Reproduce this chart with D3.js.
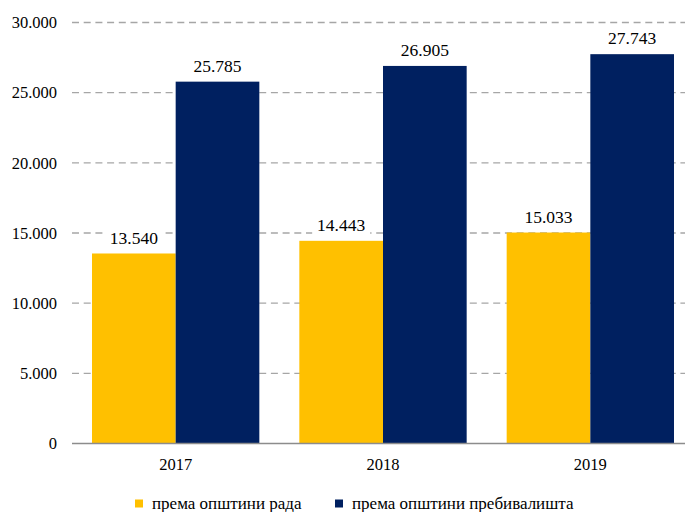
<!DOCTYPE html>
<html>
<head>
<meta charset="utf-8">
<style>
  body { margin: 0; background: #ffffff; }
</style>
</head>
<body>
<script src="https://cdn.jsdelivr.net/npm/d3@7"></script>
<script>
// data
var years = ['2017', '2018', '2019'];
var seriesNames = ['према општини рада', 'према општини пребивалишта'];
var workValues = [13540, 14443, 15033];
var residenceValues = [25785, 26905, 27743];
var yTicks = [0, 5000, 10000, 15000, 20000, 25000, 30000];
var colors = ['#FFC000', '#002060'];

var FONT = 'Liberation Serif';
var svgWidth = 685, svgHeight = 512;
var svg = d3.select('body').append('svg')
    .attr('width', svgWidth)
    .attr('height', svgHeight)
    .style('display', 'block')
    .style('font-family', FONT);

var plot = { left: 72, right: 694, top: 22.5, bottom: 443.5 };

var x0 = d3.scaleBand().domain(years).range([plot.left, plot.right]);
var x1 = d3.scaleBand().domain([0, 1]).range([20, x0.bandwidth() - 20]);
var y = d3.scaleLinear().domain([0, 30000]).range([plot.bottom, plot.top]);

var fmt = function (v) {
    return d3.format(',')(v).replace(/,/g, '.');
};

// gridlines
svg.append('g').selectAll('line')
    .data(yTicks.filter(function (d) { return d > 0; }))
    .enter().append('line')
    .attr('x1', plot.left).attr('x2', svgWidth)
    .attr('y1', function (d) { return y(d); })
    .attr('y2', function (d) { return y(d); })
    .attr('stroke', '#a6a6a6')
    .attr('stroke-width', 1.3)
    .attr('stroke-dasharray', '7,4.7');

// y axis labels
var yAxis = d3.axisLeft(y).tickValues(yTicks).tickSize(0).tickPadding(0)
    .tickFormat(fmt);
var yAxisG = svg.append('g')
    .attr('transform', 'translate(57,0)')
    .call(yAxis);
yAxisG.attr('font-family', null);
yAxisG.select('.domain').remove();
yAxisG.selectAll('text')
    .style('font-family', FONT)
    .attr('font-size', 16.5)
    .attr('fill', '#000');

// bars
var rows = years.map(function (yr, i) {
    return { year: yr, values: [workValues[i], residenceValues[i]] };
});

var groups = svg.append('g').selectAll('g')
    .data(rows)
    .enter().append('g')
    .attr('transform', function (d) { return 'translate(' + x0(d.year) + ',0)'; });

groups.selectAll('rect')
    .data(function (d) { return d.values.map(function (v, j) { return { v: v, s: j }; }); })
    .enter().append('rect')
    .attr('x', function (d) { return x1(d.s); })
    .attr('width', x1.bandwidth())
    .attr('y', function (d) { return y(d.v); })
    .attr('height', function (d) { return plot.bottom - y(d.v); })
    .attr('fill', function (d) { return colors[d.s]; });

// value labels with white background
var labels = groups.selectAll('g.lbl')
    .data(function (d) { return d.values.map(function (v, j) { return { v: v, s: j }; }); })
    .enter().append('g')
    .attr('class', 'lbl')
    .attr('transform', function (d) {
        return 'translate(' + (x1(d.s) + x1.bandwidth() / 2) + ',' + (y(d.v) - 16) + ')';
    });
labels.append('rect')
    .attr('x', -29).attr('y', -10).attr('width', 58).attr('height', 20)
    .attr('fill', '#fff');
labels.append('text')
    .attr('text-anchor', 'middle')
    .attr('dy', '0.35em')
    .attr('font-size', 17.5)
    .style('font-family', FONT)
    .attr('fill', '#000')
    .text(function (d) { return fmt(d.v); });

// x axis
svg.append('line')
    .attr('x1', plot.left).attr('x2', svgWidth)
    .attr('y1', plot.bottom).attr('y2', plot.bottom)
    .attr('stroke', '#8c8c8c')
    .attr('stroke-width', 1.5);

svg.append('g').selectAll('text')
    .data(years)
    .enter().append('text')
    .attr('x', function (d) { return x0(d) + x0.bandwidth() / 2; })
    .attr('y', 464)
    .attr('dy', '0.35em')
    .attr('text-anchor', 'middle')
    .attr('font-size', 16.5)
    .style('font-family', FONT)
    .text(function (d) { return d; });

// legend
var legendX = [135, 335];
var legend = svg.append('g').selectAll('g')
    .data(seriesNames)
    .enter().append('g')
    .attr('transform', function (d, i) { return 'translate(' + legendX[i] + ',503)'; });
legend.append('rect')
    .attr('x', 0).attr('y', -3.5).attr('width', 8).attr('height', 8)
    .attr('fill', function (d, i) { return colors[i]; });
legend.append('text')
    .attr('x', 17)
    .attr('dy', '0.35em')
    .attr('font-size', 17)
    .style('font-family', FONT)
    .text(function (d) { return d; });
</script>
</body>
</html>
